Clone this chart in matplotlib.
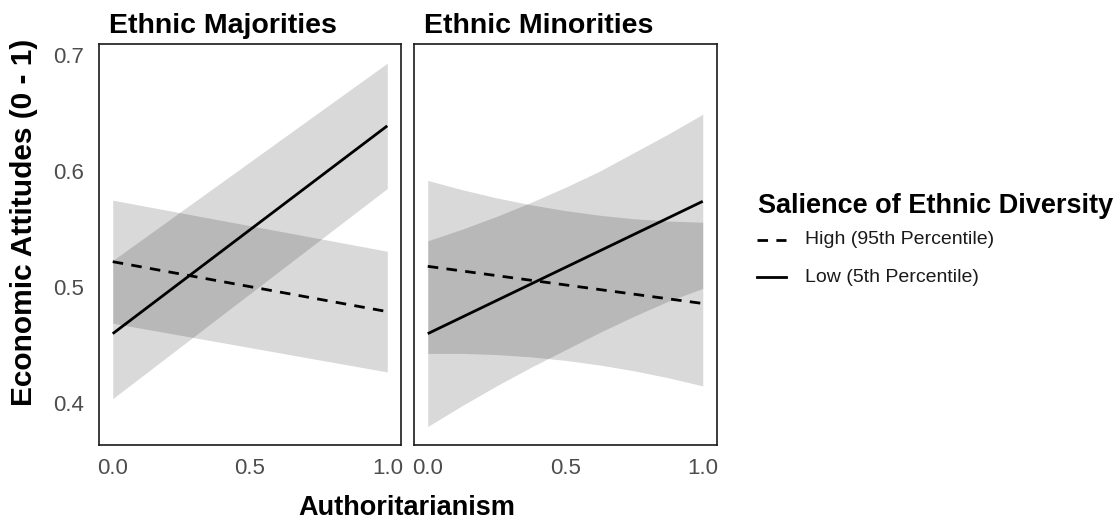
import matplotlib
matplotlib.use('Agg')
import matplotlib.pyplot as plt
from matplotlib.lines import Line2D

plt.rcParams['font.family'] = ['Liberation Sans', 'DejaVu Sans']

panels = ['Ethnic Majorities', 'Ethnic Minorities']
groups = ['High (95th Percentile)', 'Low (5th Percentile)']
x_ticks = [0.0, 0.5, 1.0]
y_ticks = [0.4, 0.5, 0.6, 0.7]

# fitted lines (straight), values at authoritarianism = 0 and 1
fit_x = [0.0, 1.0]
maj_high_fit = [0.522, 0.479]
maj_low_fit = [0.460, 0.639]
min_high_fit = [0.518, 0.486]
min_low_fit = [0.460, 0.574]

# confidence bands, majorities (straight edges)
maj_band_x = [0.0, 1.0]
maj_high_lo = [0.469, 0.427]
maj_high_hi = [0.575, 0.531]
maj_low_lo = [0.404, 0.585]
maj_low_hi = [0.523, 0.693]

# confidence bands, minorities (curved edges)
min_band_x = [0.0, 0.125, 0.25, 0.375, 0.5, 0.625, 0.75, 0.875, 1.0]
min_high_lo = [0.443, 0.443, 0.442, 0.440, 0.437, 0.433, 0.428, 0.422, 0.415]
min_high_hi = [0.592, 0.584, 0.577, 0.571, 0.566, 0.562, 0.559, 0.557, 0.556]
min_low_lo = [0.380, 0.398, 0.415, 0.431, 0.446, 0.461, 0.475, 0.488, 0.499]
min_low_hi = [0.540, 0.550, 0.561, 0.573, 0.586, 0.600, 0.616, 0.632, 0.649]

W, H = 1120, 523
fig = plt.figure(figsize=(W / 100, H / 100), dpi=100)


def px_box(x0, y0, x1, y1):
    return [x0 / W, 1 - y1 / H, (x1 - x0) / W, (y1 - y0) / H]


ax1 = fig.add_axes(px_box(99, 44, 401, 445))
ax2 = fig.add_axes(px_box(414, 44, 716.5, 445))

dash = (0, (3.8, 3.0))
lw = 2.0
band = dict(color='black', alpha=0.15, linewidth=0)

data = [
    (ax1, maj_band_x, maj_high_lo, maj_high_hi, maj_low_lo, maj_low_hi, maj_high_fit, maj_low_fit),
    (ax2, min_band_x, min_high_lo, min_high_hi, min_low_lo, min_low_hi, min_high_fit, min_low_fit),
]

for i, (ax, bx, hlo, hhi, llo, lhi, hfit, lfit) in enumerate(data):
    ax.fill_between(bx, hlo, hhi, **band)
    ax.fill_between(bx, llo, lhi, **band)
    ax.plot(fit_x, hfit, color='black', lw=lw, linestyle=dash)
    ax.plot(fit_x, lfit, color='black', lw=lw, solid_capstyle='butt')

    ax.set_xlim(-0.05, 1.05)
    ax.set_ylim(0.3641, 0.7095)
    ax.set_xticks(x_ticks)
    ax.set_xticklabels(['%.1f' % v for v in x_ticks])
    ax.set_yticks(y_ticks)
    ax.tick_params(length=0, labelsize=16, labelcolor='#4d4d4d')
    ax.tick_params(axis='x', pad=9)
    ax.tick_params(axis='y', pad=11)
    if i == 1:
        ax.set_yticklabels([])
    for s in ax.spines.values():
        s.set_linewidth(1.2)
        s.set_color('#1a1a1a')

    left = ax.get_position().x0
    fig.text(left + 10 / W, 1 - 33 / H, panels[i], fontsize=20.5,
             fontweight='bold', ha='left', va='baseline')

fig.text(406.5 / W, 1 - 515 / H, 'Authoritarianism', fontsize=19.5,
         fontweight='bold', ha='center', va='baseline')
fig.text(24 / W, 1 - 222 / H, 'Economic Attitudes (0 - 1)', fontsize=21.5,
         fontweight='bold', ha='center', va='center', rotation=90)

# legend
fig.text(758 / W, 1 - 213 / H, 'Salience of Ethnic Diversity', fontsize=19.5,
         fontweight='bold', ha='left', va='baseline')
key_y = [240, 277]
styles = [dash, '-']
for y, label, st in zip(key_y, groups, styles):
    fig.add_artist(Line2D([757 / W, 786 / W], [1 - y / H, 1 - y / H],
                          color='black', lw=lw, linestyle=st,
                          transform=fig.transFigure))
    fig.text(805 / W, 1 - y / H, label, fontsize=14, ha='left',
             va='center', color='#1a1a1a')

fig.savefig('out.png', dpi=100, facecolor='white')
